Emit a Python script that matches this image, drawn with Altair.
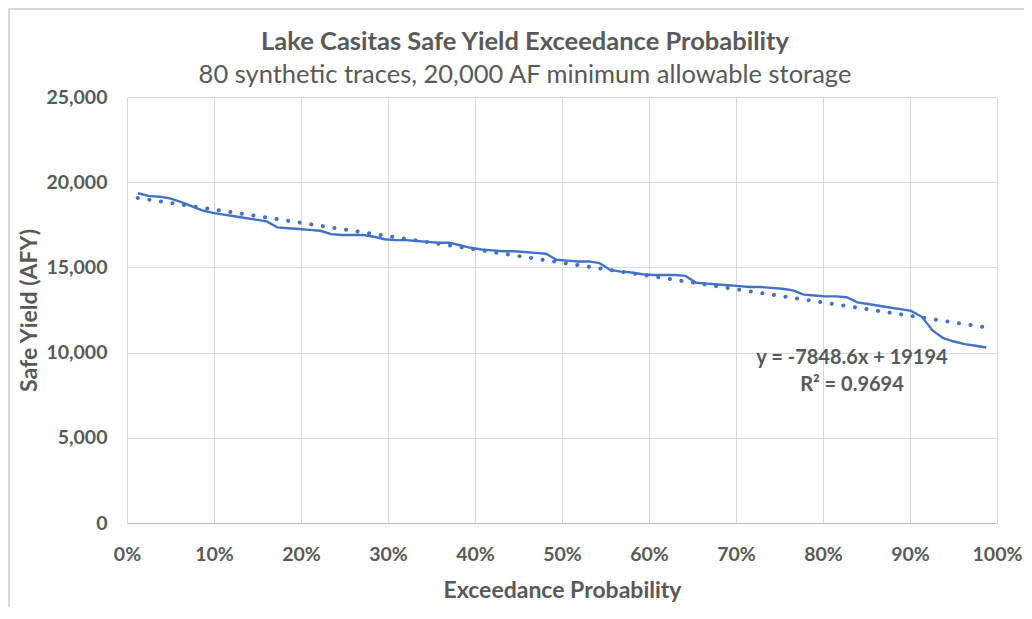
import altair as alt
import pandas as pd

# exceedance probability rank i/(n+1), n = 80 synthetic traces
ranks = list(range(1, 81))
safe_yield = [
    19350, 19200, 19150, 19050, 18850, 18600, 18350, 18200, 18100, 18000,
    17900, 17800, 17700, 17350, 17300, 17250, 17200, 17150, 16950, 16900,
    16900, 16900, 16800, 16650, 16600, 16600, 16550, 16500, 16450, 16450,
    16300, 16150, 16050, 16000, 15950, 15950, 15900, 15850, 15800, 15450,
    15400, 15350, 15350, 15250, 14850, 14750, 14700, 14600, 14550, 14550,
    14550, 14500, 14100, 14050, 14000, 13950, 13900, 13850, 13850, 13800,
    13750, 13650, 13400, 13350, 13300, 13300, 13250, 12950, 12850, 12750,
    12650, 12550, 12450, 12100, 11300, 10850, 10650, 10500, 10400, 10300,
]
n_traces = 80
y_ticks = [0, 5000, 10000, 15000, 20000, 25000]
x_ticks = [i / 10 for i in range(11)]
equation_text = "y = -7848.6x + 19194"
r2_text = "R² = 0.9694"
title_text = "Lake Casitas Safe Yield Exceedance Probability"
subtitle_text = "80 synthetic traces, 20,000 AF minimum allowable storage"

df = pd.DataFrame({
    "p": [r / (n_traces + 1) for r in ranks],
    "y": safe_yield,
})

BLUE = "#4472C4"
GREY = "#595959"
FRAME = "#d9d9d9"
FONT = "Lato"

W, H = 870, 426

x_scale = alt.Scale(domain=[0, 1], nice=False)
y_scale = alt.Scale(domain=[0, 25000], nice=False)

x_axis = alt.Axis(values=x_ticks, labelFlush=False,
                  labelExpr="format(datum.value, '.0%')",
                  title="Exceedance Probability")
y_axis = alt.Axis(values=y_ticks, labelFlush=False,
                  labelExpr="format(datum.value, ',')",
                  title="Safe Yield (AFY)")

x_enc = alt.X("p:Q", scale=x_scale, axis=x_axis)
y_enc = alt.Y("y:Q", scale=y_scale, axis=y_axis)

base = alt.Chart(df)

line = base.mark_line(color=BLUE, strokeWidth=2.4).encode(x=x_enc, y=y_enc)

trend = base.transform_regression("p", "y").mark_line(
    color=BLUE, strokeWidth=4, strokeDash=[0.1, 11.6], strokeCap="round"
).encode(x=x_enc, y=y_enc)


def label(text, x, y, size, weight):
    return alt.Chart(pd.DataFrame({"t": [text]})).mark_text(
        font=FONT, fontSize=size, fontWeight=weight, color=GREY,
        align="center", baseline="middle"
    ).encode(text="t:N", x=alt.value(x), y=alt.value(y))


ann1 = label(equation_text, 725, 261, 20, "bold")
ann2 = label(r2_text, 725, 288, 20, "bold")
title = label(title_text, 398, -55, 25.5, "bold")
subtitle = label(subtitle_text, 398, -22, 25.5, "normal")

# light chart-area frame (top and left edges visible in the reference)
frame_top = alt.Chart(pd.DataFrame({"k": [0]})).mark_rule(color=FRAME, strokeWidth=2).encode(
    x=alt.value(-119), x2=alt.value(W + 30), y=alt.value(-88)
)
frame_left = alt.Chart(pd.DataFrame({"k": [0]})).mark_rule(color=FRAME, strokeWidth=2).encode(
    x=alt.value(-118), y=alt.value(-89), y2=alt.value(H + 90)
)

chart = alt.layer(frame_top, frame_left, line, trend, ann1, ann2, title, subtitle).properties(
    width=W, height=H,
    background="white",
    padding={"left": 119, "top": 89, "right": 27, "bottom": 84},
    autosize=alt.AutoSizeParams(type="none"),
).configure_view(stroke=None).configure_axis(
    labelFont=FONT, labelFontSize=19.5, labelFontWeight="bold", labelColor=GREY,
    titleFont=FONT, titleFontSize=23, titleFontWeight="bold", titleColor=GREY,
    gridColor="#d9d9d9", gridWidth=1, ticks=False, domain=False,
).configure_axisX(
    labelPadding=22, titlePadding=16, domain=True, domainColor="#bfbfbf",
).configure_axisY(
    labelPadding=20, titlePadding=4,
)

chart.save("out.html", embed_options={"renderer": "svg", "actions": False})
